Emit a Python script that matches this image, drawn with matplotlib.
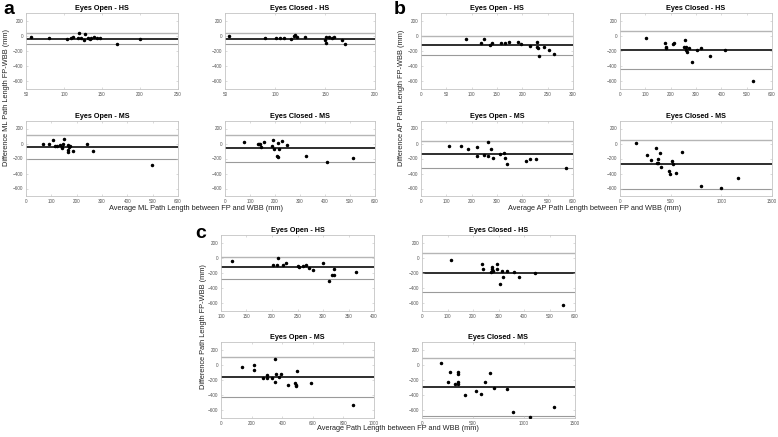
import numpy as np
import matplotlib
matplotlib.use('Agg')
from matplotlib import pyplot as plt

plt.rcParams['font.family'] = ['Liberation Sans', 'DejaVu Sans']

# ---- panel a : ML path length ----
a_open_hs_x = [56, 80, 104, 109, 112, 120, 119, 123, 127, 126, 131, 134, 136, 139, 143, 147, 170, 200]
a_open_hs_y = [-17, -29, -38, -34, -17, 38, -34, -29, 21, -50, -29, -46, -25, -17, -25, -34, -114, -42]
a_closed_hs_x = [54, 90, 101, 105, 109, 116, 119, 120, 122, 130, 150, 151, 151, 154, 157, 159, 167, 170]
a_closed_hs_y = [-4, -29, -25, -25, -29, -38, -8, 4, -13, -17, -59, -17, -101, -21, -34, -21, -55, -109]
a_open_ms_x = [66, 91, 108, 114, 121, 134, 141, 147, 151, 144, 167, 169, 167, 175, 167, 185, 239, 265, 498]
a_open_ms_y = [-4, -4, 49, -35, -31, -26, -49, -9, 62, -62, -26, -44, -88, -35, -115, -97, 0, -106, -291]
a_closed_ms_x = [77, 130, 137, 142, 141, 156, 192, 189, 195, 210, 228, 215, 246, 207, 213, 325, 408, 512]
a_closed_ms_y = [26, 0, 0, -40, -13, 18, 53, -31, -75, 9, 31, -71, -26, -164, -177, -168, -250, -199]

# ---- panel b : AP path length ----
b_open_hs_x = [89, 118, 124, 137, 141, 157, 166, 173, 191, 198, 216, 229, 229, 231, 232, 242, 253, 263]
b_open_hs_y = [-38, -94, -38, -115, -98, -89, -89, -85, -81, -102, -132, -85, -153, -166, -264, -153, -187, -243]
b_closed_hs_x = [102, 178, 181, 181, 211, 213, 256, 253, 260, 259, 266, 274, 284, 303, 321, 356, 414, 525]
b_closed_hs_y = [-26, -96, -149, -166, -114, -96, -61, -153, -153, -188, -210, -157, -341, -188, -166, -267, -192, -590]
b_open_ms_x = [112, 159, 186, 220, 221, 247, 264, 264, 278, 283, 311, 329, 330, 339, 416, 432, 454, 572]
b_open_ms_y = [-27, -36, -76, -53, -173, -156, 18, -164, -71, -196, -138, -124, -191, -276, -231, -213, -200, -324]
b_closed_ms_x = [158, 264, 303, 356, 363, 373, 376, 392, 402, 485, 498, 514, 521, 551, 610, 804, 999, 1160]
b_closed_ms_y = [4, -149, -219, -61, -262, -254, -205, -131, -310, -372, -411, -232, -267, -393, -109, -568, -599, -459]

# ---- panel c : total path length ----
c_open_hs_x = [121, 201, 210, 211, 222, 227, 250, 253, 261, 266, 273, 281, 300, 311, 318, 321, 322, 364]
c_open_hs_y = [-48, -91, -100, -4, -100, -70, -104, -117, -104, -100, -135, -165, -70, -304, -230, -226, -148, -183]
c_closed_hs_x = [113, 237, 241, 275, 275, 270, 279, 294, 295, 307, 313, 318, 332, 360, 380, 443, 552]
c_closed_hs_y = [-35, -83, -153, -122, -148, -192, -175, -83, -153, -350, -179, -258, -179, -188, -249, -205, -616]
c_open_ms_x = [135, 216, 216, 276, 298, 300, 335, 353, 353, 358, 380, 389, 439, 481, 488, 490, 499, 585, 861]
c_open_ms_y = [-26, -4, -70, -170, -170, -135, -178, -222, 78, -117, -165, -122, -265, -243, -265, -278, -78, -243, -530]
c_closed_ms_x = [183, 259, 278, 328, 350, 354, 357, 357, 419, 527, 576, 622, 662, 704, 838, 897, 1058, 1297]
c_closed_ms_y = [18, -224, -101, -259, -229, -255, -101, -123, -400, -347, -378, -229, -105, -303, -312, -620, -681, -549]

# bias and limits of agreement (upper, mean, lower)
a_loa = [(32, -38, -105), (32, -38, -105), (110, -44, -203), (119, -57, -247)]
b_loa = [(3, -123, -251), (66, -184, -433), (36, -142, -329), (52, -275, -612)]
c_loa = [(13, -126, -274), (61, -197, -450), (100, -161, -426), (92, -295, -672)]

a_xlims = [(50, 250, 50), (50, 200, 50), (0, 600, 100), (0, 600, 100)]
b_xlims = [(0, 300, 50), (0, 600, 100), (0, 600, 100), (0, 1500, 500)]
c_xlims = [(100, 400, 50), (0, 600, 100), (0, 1000, 200), (0, 1500, 500)]

titles = ['Eyes Open - HS', 'Eyes Closed - HS', 'Eyes Open - MS', 'Eyes Closed - MS']

W, H = 778, 437
fig = plt.figure(figsize=(W / 100, H / 100), dpi=100)


def box(x0, x1, y0, y1):
    # pixel box -> figure fraction
    return [x0 / W, 1 - y1 / H, (x1 - x0) / W, (y1 - y0) / H]


def panel(rect, xs, ys, loa, xl, title):
    ax = fig.add_axes(rect)
    up, mean, lo = loa
    ax.axhline(up, color='#b5b5b5', lw=1.0, zorder=1)
    ax.axhline(lo, color='#9a9a9a', lw=0.8, zorder=1)
    ax.axhline(mean, color='#1e1e1e', lw=1.3, zorder=1)
    ax.plot(xs, ys, 'o', color='black', ms=1.5, zorder=3)
    ax.set_xlim(xl[0], xl[1])
    ax.set_xticks(np.arange(xl[0], xl[1] + 1, xl[2]))
    ax.set_ylim(-700, 300)
    ax.set_yticks([-600, -400, -200, 0, 200])
    ax.tick_params(direction='in', length=1.5, width=0.4, labelsize=3.3,
                   colors='#c0c0c0', labelcolor='#555555', pad=2,
                   top=True, right=True)
    for s in ax.spines.values():
        s.set_color('#c4c4c4')
        s.set_linewidth(0.6)
    ax.set_title(title, fontsize=5.2, fontweight='bold', pad=2.5)
    return ax


groups = [
    ([a_open_hs_x, a_closed_hs_x, a_open_ms_x, a_closed_ms_x],
     [a_open_hs_y, a_closed_hs_y, a_open_ms_y, a_closed_ms_y], a_loa, a_xlims,
     (26, 178, 225, 375), (13, 89, 121, 196)),
    ([b_open_hs_x, b_closed_hs_x, b_open_ms_x, b_closed_ms_x],
     [b_open_hs_y, b_closed_hs_y, b_open_ms_y, b_closed_ms_y], b_loa, b_xlims,
     (421, 573, 620, 772), (13, 89, 121, 196)),
    ([c_open_hs_x, c_closed_hs_x, c_open_ms_x, c_closed_ms_x],
     [c_open_hs_y, c_closed_hs_y, c_open_ms_y, c_closed_ms_y], c_loa, c_xlims,
     (221, 374, 422, 575), (235, 311, 342, 418)),
]

for xs4, ys4, loas, xls, (l0, l1, r0, r1), (t0, t1, u0, u1) in groups:
    cells = [(l0, l1, t0, t1), (r0, r1, t0, t1), (l0, l1, u0, u1), (r0, r1, u0, u1)]
    for k in range(4):
        panel(box(*cells[k]), xs4[k], ys4[k], loas[k], xls[k], titles[k])

# panel letters
let = dict(fontsize=14, fontweight='bold', va='top', ha='left')
fig.text(3 / W, 1 - 0.5 / H, 'a', **let)
fig.text(394 / W, 1 - 0.5 / H, 'b', **let)
fig.text(195 / W, 1 - 225 / H, 'c', **let)

# axis labels
lab = dict(fontsize=5.3, color='#222222')
fig.text(7 / W, 1 - 98 / H, 'Difference ML Path Length FP-WBB (mm)', rotation=90,
         ha='center', va='center', **lab)
fig.text(401 / W, 1 - 98 / H, 'Difference AP Path Length FP-WBB (mm)', rotation=90,
         ha='center', va='center', **lab)
fig.text(203 / W, 1 - 327 / H, 'Difference Path Length FP-WBB (mm)', rotation=90,
         ha='center', va='center', **lab)
fig.text(196 / W, 1 - 209 / H, 'Average ML Path Length between FP and WBB (mm)',
         ha='center', va='center', **lab)
fig.text(595 / W, 1 - 209 / H, 'Average AP Path Length between FP and WBB (mm)',
         ha='center', va='center', **lab)
fig.text(398 / W, 1 - 429 / H, 'Average Path Length between FP and WBB (mm)',
         ha='center', va='center', **lab)

fig.savefig('out.png', dpi=100, facecolor='white')
